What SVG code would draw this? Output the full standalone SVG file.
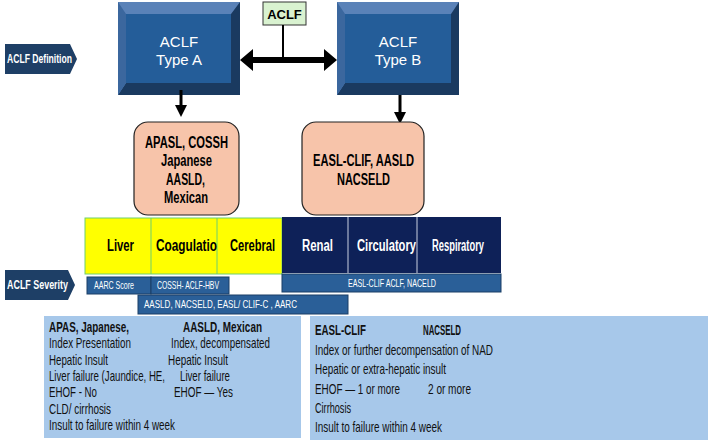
<svg xmlns="http://www.w3.org/2000/svg" width="708" height="440" viewBox="0 0 708 440">
<style>
text{font-family:"Liberation Sans",Arial,sans-serif}
.w{fill:#fff;font-size:15px}
.b{font-weight:bold}
.pk{fill:#f7c4aa;stroke:#222;stroke-width:1.2}
.nv{fill:#1e3f66}
.sb{fill:#2a5f98;stroke:#1b3f66;stroke-width:1}
.st{fill:#fff;font-size:10.5px}
.bt{font-size:15px;fill:#111}
.lb{fill:#a7c8ea}
</style>
<defs>
<marker id="ah" markerWidth="4" markerHeight="4" refX="2" refY="2" orient="auto"><path d="M0,0L4,2L0,4z" fill="#000"/></marker>
</defs>
<rect width="708" height="440" fill="#fff"/>
<g id="def"><path d="M5,44H70L77,59L70,74H5z" class="nv"/><text x="7" y="63" textLength="65" lengthAdjust="spacingAndGlyphs" class="b" style="fill:#fff;font-size:12px">ACLF Definition</text></g>
<g id="typeA">
<rect x="118" y="2" width="122" height="93" fill="#5a82b8"/>
<path d="M240,2V95H118L126,83H231V14z" fill="#1a3a60"/>
<path d="M126,83L118,95V2L126,14z" fill="#3b679e"/>
<rect x="126" y="14" width="105" height="69" fill="#245d99"/>
<text x="179" y="47" text-anchor="middle" class="w">ACLF</text><text x="179" y="65" text-anchor="middle" class="w">Type A</text></g>
<g id="typeB">
<rect x="337" y="2" width="122" height="93" fill="#5a82b8"/>
<path d="M459,2V95H337L345,83H451V14z" fill="#1a3a60"/>
<path d="M345,83L337,95V2L345,14z" fill="#3b679e"/>
<rect x="345" y="14" width="106" height="69" fill="#245d99"/>
<text x="398" y="47" text-anchor="middle" class="w">ACLF</text><text x="398" y="65" text-anchor="middle" class="w">Type B</text></g>
<g id="aclf"><rect x="263" y="2" width="43" height="23" fill="#d9f2d0" stroke="#333"/><text x="284.5" y="19" text-anchor="middle" class="b" style="font-size:13px">ACLF</text></g>
<g id="connectors">
<line x1="283" y1="25" x2="283" y2="60" stroke="#000" stroke-width="2"/>
<path d="M240,60L253,49V57H324V49L337,60L324,71V63H253V71z" fill="#000"/>
<line x1="181" y1="90" x2="181" y2="111" stroke="#000" stroke-width="3" marker-end="url(#ah)"/>
<line x1="400" y1="95" x2="400" y2="118" stroke="#000" stroke-width="3" marker-end="url(#ah)"/>
</g>
<g id="pinkA"><rect x="134" y="122" width="105" height="93" rx="14" class="pk"/>
<g class="b" style="font-size:16px"><text x="145" y="148" textLength="83" lengthAdjust="spacingAndGlyphs">APASL, COSSH</text><text x="161" y="166" textLength="51" lengthAdjust="spacingAndGlyphs">Japanese</text><text x="166" y="185" textLength="39" lengthAdjust="spacingAndGlyphs">AASLD,</text><text x="164" y="203" textLength="44" lengthAdjust="spacingAndGlyphs">Mexican</text></g></g>
<g id="pinkB"><rect x="302" y="122" width="122" height="93" rx="14" class="pk"/>
<g class="b" style="font-size:16px"><text x="313" y="166" textLength="101" lengthAdjust="spacingAndGlyphs">EASL-CLIF, AASLD</text><text x="337" y="185" textLength="53" lengthAdjust="spacingAndGlyphs">NACSELD</text></g></g>
<g id="organs">
<rect x="85" y="218" width="197" height="56" fill="#ffff00" stroke="#6fcf6f"/>
<line x1="151" y1="218" x2="151" y2="274" stroke="#6fcf6f"/><line x1="217" y1="218" x2="217" y2="274" stroke="#6fcf6f"/>
<rect x="282" y="217" width="219" height="56" fill="#0e2158"/>
<line x1="348" y1="217" x2="348" y2="273" stroke="#c8d0e0"/><line x1="417" y1="217" x2="417" y2="273" stroke="#c8d0e0"/>
<g class="b" style="font-size:16px"><text x="107" y="251" textLength="27" lengthAdjust="spacingAndGlyphs">Liver</text><text x="156" y="251" textLength="61" lengthAdjust="spacingAndGlyphs">Coagulatio</text><text x="230" y="251" textLength="45" lengthAdjust="spacingAndGlyphs">Cerebral</text>
<g style="fill:#fff"><text x="302" y="251" textLength="31" lengthAdjust="spacingAndGlyphs">Renal</text><text x="357" y="251" textLength="59" lengthAdjust="spacingAndGlyphs">Circulatory</text><text x="432" y="251" textLength="52" lengthAdjust="spacingAndGlyphs">Respiratory</text></g></g></g>
<g id="sev"><path d="M5,270H68L75,285L68,300H5z" class="nv"/><text x="7" y="289" textLength="61" lengthAdjust="spacingAndGlyphs" class="b" style="fill:#fff;font-size:12px">ACLF  Severity</text></g>
<g id="scores">
<rect x="87" y="277" width="64" height="17" class="sb"/><text x="94" y="289" textLength="40" lengthAdjust="spacingAndGlyphs" class="st">AARC Score</text>
<rect x="151" y="277" width="78" height="17" class="sb"/><text x="157" y="289" textLength="62" lengthAdjust="spacingAndGlyphs" class="st">COSSH- ACLF-HBV</text>
<rect x="282" y="274" width="219" height="18" class="sb"/><text x="348" y="287" textLength="88" lengthAdjust="spacingAndGlyphs" class="st">EASL-CLIF ACLF, NACELD</text>
<rect x="138" y="295" width="210" height="19" class="sb"/><text x="144" y="308" textLength="153" lengthAdjust="spacingAndGlyphs" class="st">AASLD,    NACSELD, EASL/ CLIF-C , AARC</text>
</g>
<g id="boxL"><rect x="44" y="316" width="257" height="122" class="lb"/>
<g class="bt"><text x="49" y="332" class="b" textLength="80" lengthAdjust="spacingAndGlyphs">APAS, Japanese,</text><text x="183" y="332" class="b" textLength="79" lengthAdjust="spacingAndGlyphs">AASLD, Mexican</text>
<text x="49" y="348" textLength="82" lengthAdjust="spacingAndGlyphs">Index Presentation</text><text x="171" y="348" textLength="99" lengthAdjust="spacingAndGlyphs">Index, decompensated</text>
<text x="49" y="365" textLength="59" lengthAdjust="spacingAndGlyphs">Hepatic Insult</text><text x="168" y="365" textLength="60" lengthAdjust="spacingAndGlyphs">Hepatic Insult</text>
<text x="49" y="381" textLength="116" lengthAdjust="spacingAndGlyphs">Liver failure (Jaundice, HE,</text><text x="180" y="381" textLength="50" lengthAdjust="spacingAndGlyphs">Liver failure</text>
<text x="49" y="397" textLength="48" lengthAdjust="spacingAndGlyphs">EHOF - No</text><text x="174" y="397" textLength="59" lengthAdjust="spacingAndGlyphs">EHOF — Yes</text>
<text x="49" y="414" textLength="62" lengthAdjust="spacingAndGlyphs">CLD/ cirrhosis</text><text x="49" y="430" textLength="126" lengthAdjust="spacingAndGlyphs">Insult to failure within 4 week</text></g></g>
<g id="boxR"><rect x="310" y="316" width="398" height="124" class="lb"/>
<g class="bt"><text x="315" y="335" class="b" textLength="51" lengthAdjust="spacingAndGlyphs">EASL-CLIF</text><text x="423" y="335" class="b" textLength="38" lengthAdjust="spacingAndGlyphs">NACSELD</text>
<text x="315" y="355" textLength="178" lengthAdjust="spacingAndGlyphs">Index or further decompensation of NAD</text>
<text x="315" y="374" textLength="131" lengthAdjust="spacingAndGlyphs">Hepatic or extra-hepatic insult</text>
<text x="315" y="394" textLength="85" lengthAdjust="spacingAndGlyphs">EHOF — 1 or more</text><text x="428" y="394" textLength="43" lengthAdjust="spacingAndGlyphs">2 or more</text>
<text x="315" y="413" textLength="36" lengthAdjust="spacingAndGlyphs">Cirrhosis</text><text x="315" y="432" textLength="127" lengthAdjust="spacingAndGlyphs">Insult to failure within 4 week</text></g></g>
</svg>
